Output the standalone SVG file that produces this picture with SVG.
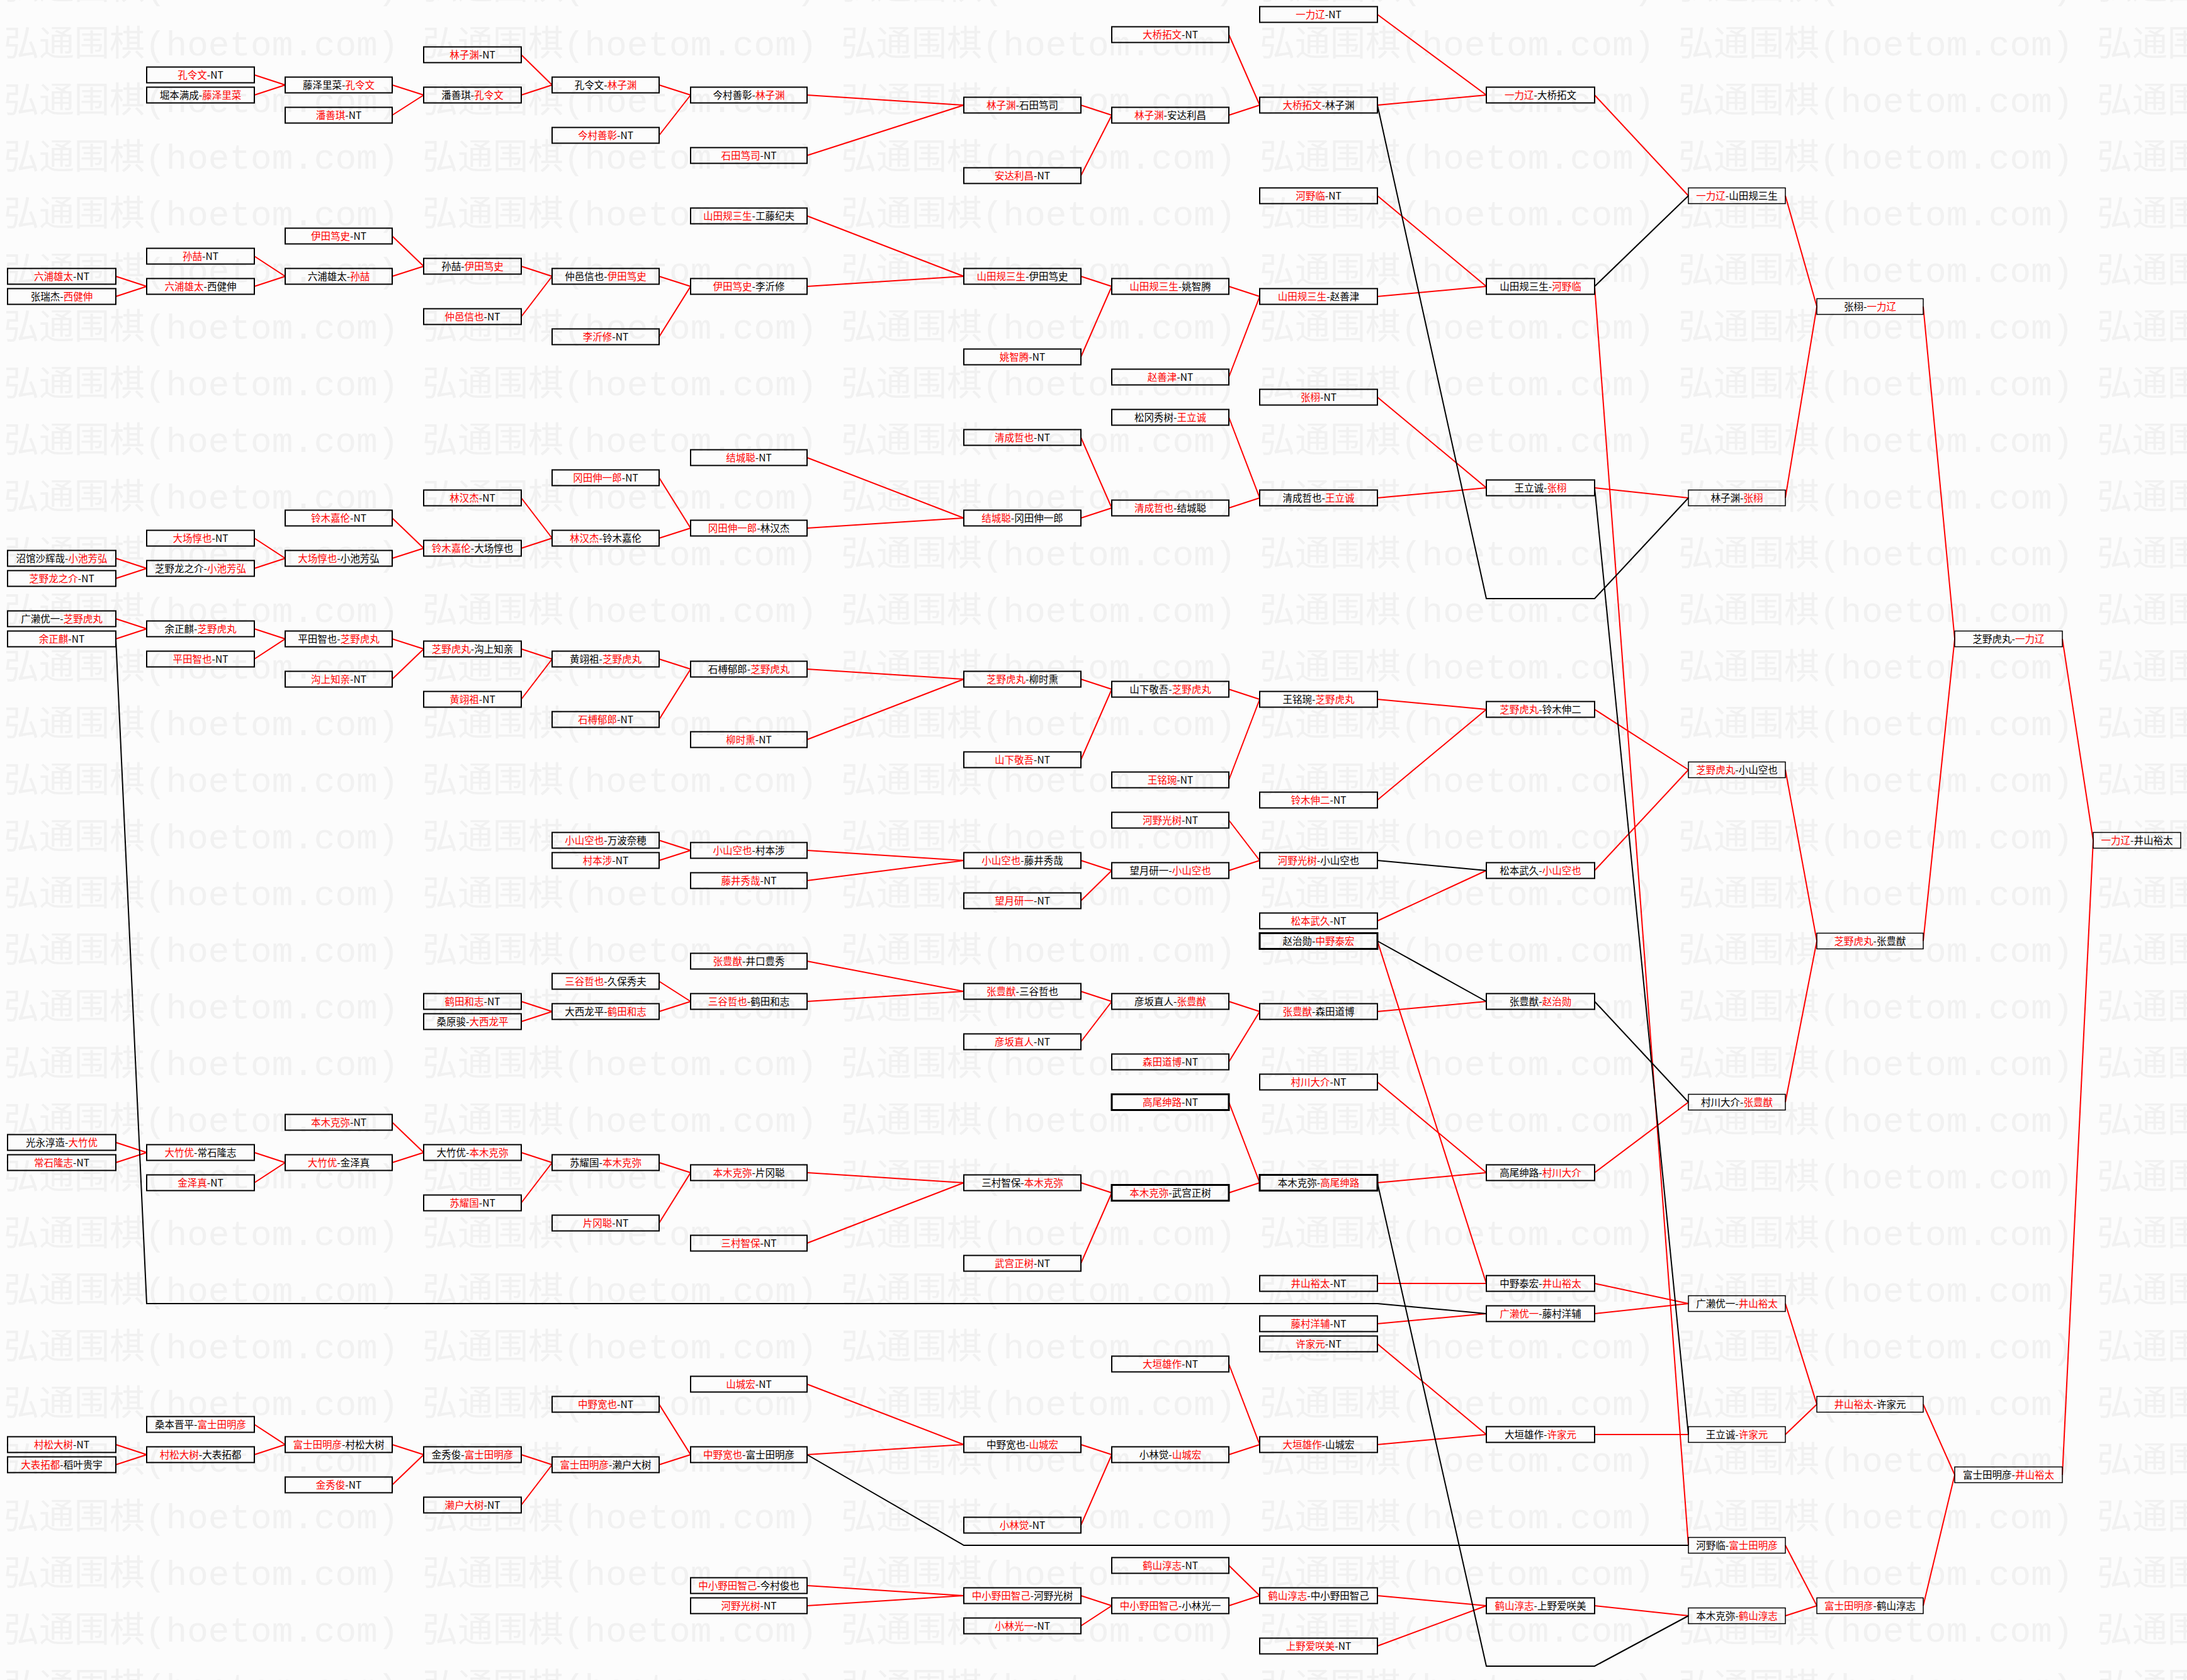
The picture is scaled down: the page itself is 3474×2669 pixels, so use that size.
<svg xmlns="http://www.w3.org/2000/svg" width="3474" height="2669" viewBox="0 0 3474 2669">
<defs>
<style>
.bx{fill:none;stroke:#000;stroke-width:2}
.bk{fill:none;stroke:#000;stroke-width:1.5}
.bt{fill:none;stroke:#000;stroke-width:3}
.t{font-family:"Noto Sans CJK SC","Noto Sans",sans-serif;font-size:15.5px;fill:#000;text-anchor:middle}
.r{fill:#f00}
.cr{stroke:#f00;stroke-width:2;fill:none}
.cb{stroke:#000;stroke-width:2;fill:none}
.wm{font-family:"Liberation Mono","Noto Sans CJK SC",monospace;font-size:56px;fill:#f1f1f1}
</style>
<pattern id="wmp" patternUnits="userSpaceOnUse" x="0" y="18" width="665" height="90">
<text class="wm" x="6" y="70">弘通围棋(hoetom.com)</text>
</pattern>
</defs>
<rect width="3474" height="2669" fill="#fcfcfc"/>
<rect width="3474" height="2669" fill="url(#wmp)"/>

<g id="connectors">
<g id="red-links">
<path class="cr" d="M184 439L233 455"/><path class="cr" d="M184 471L233 455"/>
<path class="cr" d="M184 887L233 903"/><path class="cr" d="M184 919L233 903"/>
<path class="cr" d="M184 983L233 999"/><path class="cr" d="M184 1015L233 999"/>
<path class="cr" d="M184 1815L233 1831"/><path class="cr" d="M184 1847L233 1831"/>
<path class="cr" d="M184 2295L233 2311"/><path class="cr" d="M184 2327L233 2311"/>
<path class="cr" d="M404 119L453 135"/><path class="cr" d="M404 151L453 135"/>
<path class="cr" d="M404 407L453 439"/><path class="cr" d="M404 455L453 439"/>
<path class="cr" d="M404 855L453 887"/><path class="cr" d="M404 903L453 887"/>
<path class="cr" d="M404 999L453 1015"/><path class="cr" d="M404 1047L453 1015"/>
<path class="cr" d="M404 1831L453 1847"/><path class="cr" d="M404 1879L453 1847"/>
<path class="cr" d="M404 2263L453 2295"/><path class="cr" d="M404 2311L453 2295"/>
<path class="cr" d="M623 135L673 151"/><path class="cr" d="M623 183L673 151"/>
<path class="cr" d="M623 375L673 423"/><path class="cr" d="M623 439L673 423"/>
<path class="cr" d="M623 823L673 871"/><path class="cr" d="M623 887L673 871"/>
<path class="cr" d="M623 1015L673 1031"/><path class="cr" d="M623 1079L673 1031"/>
<path class="cr" d="M623 1783L673 1831"/><path class="cr" d="M623 1847L673 1831"/>
<path class="cr" d="M623 2295L673 2311"/><path class="cr" d="M623 2359L673 2311"/>
<path class="cr" d="M828 87L877 135"/><path class="cr" d="M828 151L877 135"/>
<path class="cr" d="M828 423L877 439"/><path class="cr" d="M828 503L877 439"/>
<path class="cr" d="M828 791L877 855"/><path class="cr" d="M828 871L877 855"/>
<path class="cr" d="M828 1031L877 1047"/><path class="cr" d="M828 1111L877 1047"/>
<path class="cr" d="M828 1591L877 1607"/><path class="cr" d="M828 1623L877 1607"/>
<path class="cr" d="M828 1831L877 1847"/><path class="cr" d="M828 1911L877 1847"/>
<path class="cr" d="M828 2311L877 2327"/><path class="cr" d="M828 2391L877 2327"/>
<path class="cr" d="M1047 135L1097 151"/><path class="cr" d="M1047 215L1097 151"/>
<path class="cr" d="M1047 439L1097 455"/><path class="cr" d="M1047 535L1097 455"/>
<path class="cr" d="M1047 759L1097 839"/><path class="cr" d="M1047 855L1097 839"/>
<path class="cr" d="M1047 1047L1097 1063"/><path class="cr" d="M1047 1143L1097 1063"/>
<path class="cr" d="M1047 1335L1097 1351"/><path class="cr" d="M1047 1367L1097 1351"/>
<path class="cr" d="M1047 1559L1097 1591"/><path class="cr" d="M1047 1607L1097 1591"/>
<path class="cr" d="M1047 1847L1097 1863"/><path class="cr" d="M1047 1943L1097 1863"/>
<path class="cr" d="M1047 2231L1097 2311"/><path class="cr" d="M1047 2327L1097 2311"/>
<path class="cr" d="M1282 151L1531 167"/><path class="cr" d="M1282 247L1531 167"/>
<path class="cr" d="M1282 343L1531 439"/><path class="cr" d="M1282 455L1531 439"/>
<path class="cr" d="M1282 727L1531 823"/><path class="cr" d="M1282 839L1531 823"/>
<path class="cr" d="M1282 1063L1531 1079"/><path class="cr" d="M1282 1175L1531 1079"/>
<path class="cr" d="M1282 1351L1531 1367"/><path class="cr" d="M1282 1399L1531 1367"/>
<path class="cr" d="M1282 1527L1531 1575"/><path class="cr" d="M1282 1591L1531 1575"/>
<path class="cr" d="M1282 1863L1531 1879"/><path class="cr" d="M1282 1975L1531 1879"/>
<path class="cr" d="M1282 2199L1531 2295"/><path class="cr" d="M1282 2311L1531 2295"/>
<path class="cr" d="M1282 2519L1531 2535"/><path class="cr" d="M1282 2551L1531 2535"/>
<path class="cr" d="M1717 167L1766 183"/><path class="cr" d="M1717 279L1766 183"/>
<path class="cr" d="M1717 439L1766 455"/><path class="cr" d="M1717 567L1766 455"/>
<path class="cr" d="M1717 695L1766 807"/><path class="cr" d="M1717 823L1766 807"/>
<path class="cr" d="M1717 1079L1766 1095"/><path class="cr" d="M1717 1207L1766 1095"/>
<path class="cr" d="M1717 1367L1766 1383"/><path class="cr" d="M1717 1431L1766 1383"/>
<path class="cr" d="M1717 1575L1766 1591"/><path class="cr" d="M1717 1655L1766 1591"/>
<path class="cr" d="M1717 1879L1766 1895"/><path class="cr" d="M1717 2007L1766 1895"/>
<path class="cr" d="M1717 2295L1766 2311"/><path class="cr" d="M1717 2423L1766 2311"/>
<path class="cr" d="M1717 2535L1766 2551"/><path class="cr" d="M1717 2583L1766 2551"/>
<path class="cr" d="M1952 55L2001 167"/><path class="cr" d="M1952 183L2001 167"/>
<path class="cr" d="M1952 455L2001 471"/><path class="cr" d="M1952 599L2001 471"/>
<path class="cr" d="M1952 663L2001 791"/><path class="cr" d="M1952 807L2001 791"/>
<path class="cr" d="M1952 1095L2001 1111"/><path class="cr" d="M1952 1239L2001 1111"/>
<path class="cr" d="M1952 1303L2001 1367"/><path class="cr" d="M1952 1383L2001 1367"/>
<path class="cr" d="M1952 1591L2001 1607"/><path class="cr" d="M1952 1687L2001 1607"/>
<path class="cr" d="M1952 1751L2001 1879"/><path class="cr" d="M1952 1895L2001 1879"/>
<path class="cr" d="M1952 2167L2001 2295"/><path class="cr" d="M1952 2311L2001 2295"/>
<path class="cr" d="M1952 2487L2001 2535"/><path class="cr" d="M1952 2551L2001 2535"/>
<path class="cr" d="M2188 23L2361 151"/><path class="cr" d="M2188 167L2361 151"/>
<path class="cr" d="M2188 311L2361 455"/><path class="cr" d="M2188 471L2361 455"/>
<path class="cr" d="M2188 631L2361 775"/><path class="cr" d="M2188 791L2361 775"/>
<path class="cr" d="M2188 1111L2361 1127"/><path class="cr" d="M2188 1271L2361 1127"/>
<path class="cr" d="M2188 1463L2361 1383"/><path class="cr" d="M2188 1607L2361 1591"/>
<path class="cr" d="M2188 1495L2361 2039"/>
<path class="cr" d="M2188 1719L2361 1863"/><path class="cr" d="M2188 1879L2361 1863"/>
<path class="cr" d="M2188 2039L2361 2039"/><path class="cr" d="M2188 2103L2361 2087"/>
<path class="cr" d="M2188 2135L2361 2279"/><path class="cr" d="M2188 2295L2361 2279"/>
<path class="cr" d="M2188 2535L2361 2551"/><path class="cr" d="M2188 2615L2361 2551"/>
<path class="cr" d="M2533 151L2682 311"/>
<path class="cr" d="M2533 775L2682 791"/>
<path class="cr" d="M2533 1127L2682 1223"/><path class="cr" d="M2533 1383L2682 1223"/>
<path class="cr" d="M2533 1863L2682 1751"/>
<path class="cr" d="M2533 2039L2682 2071"/><path class="cr" d="M2533 2087L2682 2071"/>
<path class="cr" d="M2533 2279L2682 2279"/>
<path class="cr" d="M2533 2551L2682 2567"/>
<path class="cr" d="M2533 455L2682 2455"/>
<path class="cr" d="M2836 311L2886 487"/><path class="cr" d="M2836 791L2886 487"/>
<path class="cr" d="M2836 1223L2886 1495"/><path class="cr" d="M2836 1751L2886 1495"/>
<path class="cr" d="M2836 2071L2886 2231"/><path class="cr" d="M2836 2279L2886 2231"/>
<path class="cr" d="M2836 2455L2886 2551"/><path class="cr" d="M2836 2567L2886 2551"/>
<path class="cr" d="M3055 487L3105 1015"/><path class="cr" d="M3055 1495L3105 1015"/>
<path class="cr" d="M3055 2231L3105 2343"/><path class="cr" d="M3055 2551L3105 2343"/>
<path class="cr" d="M3276 1015L3325 1335"/><path class="cr" d="M3276 2343L3325 1335"/>
</g>
<g id="black-links">
<path class="cb" d="M184 1015L233 2071L2188 2071L2361 2087"/>
<path class="cb" d="M2188 167L2361 951L2533 951L2682 791"/>
<path class="cb" d="M2188 1879L2361 2647L2533 2647L2682 2567"/>
<path class="cb" d="M1282 2311L1531 2455L2682 2455"/>
<path class="cb" d="M2533 455L2682 311"/>
<path class="cb" d="M2533 775L2682 2279"/>
<path class="cb" d="M2188 1367L2361 1383"/>
<path class="cb" d="M2188 1495L2361 1591"/>
<path class="cb" d="M2533 1591L2682 1751"/>
</g>
</g>

<g id="col-A">
<g id="nA1"><rect class="bx" x="12" y="426.5" width="172" height="25"/><text class="t" x="98" y="444.5"><tspan class="r">六浦雄太</tspan>-NT</text></g>
<g id="nA2"><rect class="bx" x="12" y="458.5" width="172" height="25"/><text class="t" x="98" y="476.5">张瑞杰-<tspan class="r">西健伸</tspan></text></g>
<g id="nA3"><rect class="bx" x="12" y="874.5" width="172" height="25"/><text class="t" x="98" y="892.5">沼馆沙辉哉-<tspan class="r">小池芳弘</tspan></text></g>
<g id="nA4"><rect class="bx" x="12" y="906.5" width="172" height="25"/><text class="t" x="98" y="924.5"><tspan class="r">芝野龙之介</tspan>-NT</text></g>
<g id="nA5"><rect class="bx" x="12" y="970.5" width="172" height="25"/><text class="t" x="98" y="988.5">广濑优一-<tspan class="r">芝野虎丸</tspan></text></g>
<g id="nA6"><rect class="bx" x="12" y="1002.5" width="172" height="25"/><text class="t" x="98" y="1020.5"><tspan class="r">余正麒</tspan>-NT</text></g>
<g id="nA7"><rect class="bx" x="12" y="1802.5" width="172" height="25"/><text class="t" x="98" y="1820.5">光永淳造-<tspan class="r">大竹优</tspan></text></g>
<g id="nA8"><rect class="bx" x="12" y="1834.5" width="172" height="25"/><text class="t" x="98" y="1852.5"><tspan class="r">常石隆志</tspan>-NT</text></g>
<g id="nA9"><rect class="bx" x="12" y="2282.5" width="172" height="25"/><text class="t" x="98" y="2300.5"><tspan class="r">村松大树</tspan>-NT</text></g>
<g id="nA10"><rect class="bx" x="12" y="2314.5" width="172" height="25"/><text class="t" x="98" y="2332.5"><tspan class="r">大表拓都</tspan>-稻叶贵宇</text></g>
</g>

<g id="col-B">
<g id="nB1"><rect class="bx" x="233" y="106.5" width="171" height="25"/><text class="t" x="318.5" y="124.5"><tspan class="r">孔令文</tspan>-NT</text></g>
<g id="nB2"><rect class="bx" x="233" y="138.5" width="171" height="25"/><text class="t" x="318.5" y="156.5">堀本满成-<tspan class="r">藤泽里菜</tspan></text></g>
<g id="nB3"><rect class="bx" x="233" y="394.5" width="171" height="25"/><text class="t" x="318.5" y="412.5"><tspan class="r">孙喆</tspan>-NT</text></g>
<g id="nB4"><rect class="bx" x="233" y="442.5" width="171" height="25"/><text class="t" x="318.5" y="460.5"><tspan class="r">六浦雄太</tspan>-西健伸</text></g>
<g id="nB5"><rect class="bx" x="233" y="842.5" width="171" height="25"/><text class="t" x="318.5" y="860.5"><tspan class="r">大场惇也</tspan>-NT</text></g>
<g id="nB6"><rect class="bx" x="233" y="890.5" width="171" height="25"/><text class="t" x="318.5" y="908.5">芝野龙之介-<tspan class="r">小池芳弘</tspan></text></g>
<g id="nB7"><rect class="bx" x="233" y="986.5" width="171" height="25"/><text class="t" x="318.5" y="1004.5">余正麒-<tspan class="r">芝野虎丸</tspan></text></g>
<g id="nB8"><rect class="bx" x="233" y="1034.5" width="171" height="25"/><text class="t" x="318.5" y="1052.5"><tspan class="r">平田智也</tspan>-NT</text></g>
<g id="nB9"><rect class="bx" x="233" y="1818.5" width="171" height="25"/><text class="t" x="318.5" y="1836.5"><tspan class="r">大竹优</tspan>-常石隆志</text></g>
<g id="nB10"><rect class="bx" x="233" y="1866.5" width="171" height="25"/><text class="t" x="318.5" y="1884.5"><tspan class="r">金泽真</tspan>-NT</text></g>
<g id="nB11"><rect class="bx" x="233" y="2250.5" width="171" height="25"/><text class="t" x="318.5" y="2268.5">桑本晋平-<tspan class="r">富士田明彦</tspan></text></g>
<g id="nB12"><rect class="bx" x="233" y="2298.5" width="171" height="25"/><text class="t" x="318.5" y="2316.5"><tspan class="r">村松大树</tspan>-大表拓都</text></g>
</g>

<g id="col-C">
<g id="nC1"><rect class="bx" x="453" y="122.5" width="170" height="25"/><text class="t" x="538" y="140.5">藤泽里菜-<tspan class="r">孔令文</tspan></text></g>
<g id="nC2"><rect class="bx" x="453" y="170.5" width="170" height="25"/><text class="t" x="538" y="188.5"><tspan class="r">潘善琪</tspan>-NT</text></g>
<g id="nC3"><rect class="bx" x="453" y="362.5" width="170" height="25"/><text class="t" x="538" y="380.5"><tspan class="r">伊田笃史</tspan>-NT</text></g>
<g id="nC4"><rect class="bx" x="453" y="426.5" width="170" height="25"/><text class="t" x="538" y="444.5">六浦雄太-<tspan class="r">孙喆</tspan></text></g>
<g id="nC5"><rect class="bx" x="453" y="810.5" width="170" height="25"/><text class="t" x="538" y="828.5"><tspan class="r">铃木嘉伦</tspan>-NT</text></g>
<g id="nC6"><rect class="bx" x="453" y="874.5" width="170" height="25"/><text class="t" x="538" y="892.5"><tspan class="r">大场惇也</tspan>-小池芳弘</text></g>
<g id="nC7"><rect class="bx" x="453" y="1002.5" width="170" height="25"/><text class="t" x="538" y="1020.5">平田智也-<tspan class="r">芝野虎丸</tspan></text></g>
<g id="nC8"><rect class="bx" x="453" y="1066.5" width="170" height="25"/><text class="t" x="538" y="1084.5"><tspan class="r">沟上知亲</tspan>-NT</text></g>
<g id="nC9"><rect class="bx" x="453" y="1770.5" width="170" height="25"/><text class="t" x="538" y="1788.5"><tspan class="r">本木克弥</tspan>-NT</text></g>
<g id="nC10"><rect class="bx" x="453" y="1834.5" width="170" height="25"/><text class="t" x="538" y="1852.5"><tspan class="r">大竹优</tspan>-金泽真</text></g>
<g id="nC11"><rect class="bx" x="453" y="2282.5" width="170" height="25"/><text class="t" x="538" y="2300.5"><tspan class="r">富士田明彦</tspan>-村松大树</text></g>
<g id="nC12"><rect class="bx" x="453" y="2346.5" width="170" height="25"/><text class="t" x="538" y="2364.5"><tspan class="r">金秀俊</tspan>-NT</text></g>
</g>

<g id="col-D">
<g id="nD1"><rect class="bx" x="673" y="74.5" width="155" height="25"/><text class="t" x="750.5" y="92.5"><tspan class="r">林子渊</tspan>-NT</text></g>
<g id="nD2"><rect class="bx" x="673" y="138.5" width="155" height="25"/><text class="t" x="750.5" y="156.5">潘善琪-<tspan class="r">孔令文</tspan></text></g>
<g id="nD3"><rect class="bx" x="673" y="410.5" width="155" height="25"/><text class="t" x="750.5" y="428.5">孙喆-<tspan class="r">伊田笃史</tspan></text></g>
<g id="nD4"><rect class="bx" x="673" y="490.5" width="155" height="25"/><text class="t" x="750.5" y="508.5"><tspan class="r">仲邑信也</tspan>-NT</text></g>
<g id="nD5"><rect class="bx" x="673" y="778.5" width="155" height="25"/><text class="t" x="750.5" y="796.5"><tspan class="r">林汉杰</tspan>-NT</text></g>
<g id="nD6"><rect class="bx" x="673" y="858.5" width="155" height="25"/><text class="t" x="750.5" y="876.5"><tspan class="r">铃木嘉伦</tspan>-大场惇也</text></g>
<g id="nD7"><rect class="bx" x="673" y="1018.5" width="155" height="25"/><text class="t" x="750.5" y="1036.5"><tspan class="r">芝野虎丸</tspan>-沟上知亲</text></g>
<g id="nD8"><rect class="bx" x="673" y="1098.5" width="155" height="25"/><text class="t" x="750.5" y="1116.5"><tspan class="r">黄翊祖</tspan>-NT</text></g>
<g id="nD9"><rect class="bx" x="673" y="1578.5" width="155" height="25"/><text class="t" x="750.5" y="1596.5"><tspan class="r">鹤田和志</tspan>-NT</text></g>
<g id="nD10"><rect class="bx" x="673" y="1610.5" width="155" height="25"/><text class="t" x="750.5" y="1628.5">桑原骏-<tspan class="r">大西龙平</tspan></text></g>
<g id="nD11"><rect class="bx" x="673" y="1818.5" width="155" height="25"/><text class="t" x="750.5" y="1836.5">大竹优-<tspan class="r">本木克弥</tspan></text></g>
<g id="nD12"><rect class="bx" x="673" y="1898.5" width="155" height="25"/><text class="t" x="750.5" y="1916.5"><tspan class="r">苏耀国</tspan>-NT</text></g>
<g id="nD13"><rect class="bx" x="673" y="2298.5" width="155" height="25"/><text class="t" x="750.5" y="2316.5">金秀俊-<tspan class="r">富士田明彦</tspan></text></g>
<g id="nD14"><rect class="bx" x="673" y="2378.5" width="155" height="25"/><text class="t" x="750.5" y="2396.5"><tspan class="r">濑户大树</tspan>-NT</text></g>
</g>

<g id="col-E">
<g id="nE1"><rect class="bx" x="877" y="122.5" width="170" height="25"/><text class="t" x="962" y="140.5">孔令文-<tspan class="r">林子渊</tspan></text></g>
<g id="nE2"><rect class="bx" x="877" y="202.5" width="170" height="25"/><text class="t" x="962" y="220.5"><tspan class="r">今村善彰</tspan>-NT</text></g>
<g id="nE3"><rect class="bx" x="877" y="426.5" width="170" height="25"/><text class="t" x="962" y="444.5">仲邑信也-<tspan class="r">伊田笃史</tspan></text></g>
<g id="nE4"><rect class="bx" x="877" y="522.5" width="170" height="25"/><text class="t" x="962" y="540.5"><tspan class="r">李沂修</tspan>-NT</text></g>
<g id="nE5"><rect class="bx" x="877" y="746.5" width="170" height="25"/><text class="t" x="962" y="764.5"><tspan class="r">冈田伸一郎</tspan>-NT</text></g>
<g id="nE6"><rect class="bx" x="877" y="842.5" width="170" height="25"/><text class="t" x="962" y="860.5"><tspan class="r">林汉杰</tspan>-铃木嘉伦</text></g>
<g id="nE7"><rect class="bx" x="877" y="1034.5" width="170" height="25"/><text class="t" x="962" y="1052.5">黄翊祖-<tspan class="r">芝野虎丸</tspan></text></g>
<g id="nE8"><rect class="bx" x="877" y="1130.5" width="170" height="25"/><text class="t" x="962" y="1148.5"><tspan class="r">石榑郁郎</tspan>-NT</text></g>
<g id="nE9"><rect class="bx" x="877" y="1322.5" width="170" height="25"/><text class="t" x="962" y="1340.5"><tspan class="r">小山空也</tspan>-万波奈穂</text></g>
<g id="nE10"><rect class="bx" x="877" y="1354.5" width="170" height="25"/><text class="t" x="962" y="1372.5"><tspan class="r">村本涉</tspan>-NT</text></g>
<g id="nE11"><rect class="bx" x="877" y="1546.5" width="170" height="25"/><text class="t" x="962" y="1564.5"><tspan class="r">三谷哲也</tspan>-久保秀夫</text></g>
<g id="nE12"><rect class="bx" x="877" y="1594.5" width="170" height="25"/><text class="t" x="962" y="1612.5">大西龙平-<tspan class="r">鹤田和志</tspan></text></g>
<g id="nE13"><rect class="bx" x="877" y="1834.5" width="170" height="25"/><text class="t" x="962" y="1852.5">苏耀国-<tspan class="r">本木克弥</tspan></text></g>
<g id="nE14"><rect class="bx" x="877" y="1930.5" width="170" height="25"/><text class="t" x="962" y="1948.5"><tspan class="r">片冈聪</tspan>-NT</text></g>
<g id="nE15"><rect class="bx" x="877" y="2218.5" width="170" height="25"/><text class="t" x="962" y="2236.5"><tspan class="r">中野宽也</tspan>-NT</text></g>
<g id="nE16"><rect class="bx" x="877" y="2314.5" width="170" height="25"/><text class="t" x="962" y="2332.5"><tspan class="r">富士田明彦</tspan>-濑户大树</text></g>
</g>

<g id="col-F">
<g id="nF1"><rect class="bx" x="1097" y="138.5" width="185" height="25"/><text class="t" x="1189.5" y="156.5">今村善彰-<tspan class="r">林子渊</tspan></text></g>
<g id="nF2"><rect class="bx" x="1097" y="234.5" width="185" height="25"/><text class="t" x="1189.5" y="252.5"><tspan class="r">石田笃司</tspan>-NT</text></g>
<g id="nF3"><rect class="bx" x="1097" y="330.5" width="185" height="25"/><text class="t" x="1189.5" y="348.5"><tspan class="r">山田规三生</tspan>-工藤纪夫</text></g>
<g id="nF4"><rect class="bx" x="1097" y="442.5" width="185" height="25"/><text class="t" x="1189.5" y="460.5"><tspan class="r">伊田笃史</tspan>-李沂修</text></g>
<g id="nF5"><rect class="bx" x="1097" y="714.5" width="185" height="25"/><text class="t" x="1189.5" y="732.5"><tspan class="r">结城聪</tspan>-NT</text></g>
<g id="nF6"><rect class="bx" x="1097" y="826.5" width="185" height="25"/><text class="t" x="1189.5" y="844.5"><tspan class="r">冈田伸一郎</tspan>-林汉杰</text></g>
<g id="nF7"><rect class="bx" x="1097" y="1050.5" width="185" height="25"/><text class="t" x="1189.5" y="1068.5">石榑郁郎-<tspan class="r">芝野虎丸</tspan></text></g>
<g id="nF8"><rect class="bx" x="1097" y="1162.5" width="185" height="25"/><text class="t" x="1189.5" y="1180.5"><tspan class="r">柳时熏</tspan>-NT</text></g>
<g id="nF9"><rect class="bx" x="1097" y="1338.5" width="185" height="25"/><text class="t" x="1189.5" y="1356.5"><tspan class="r">小山空也</tspan>-村本涉</text></g>
<g id="nF10"><rect class="bx" x="1097" y="1386.5" width="185" height="25"/><text class="t" x="1189.5" y="1404.5"><tspan class="r">藤井秀哉</tspan>-NT</text></g>
<g id="nF11"><rect class="bx" x="1097" y="1514.5" width="185" height="25"/><text class="t" x="1189.5" y="1532.5"><tspan class="r">张豊猷</tspan>-井口豊秀</text></g>
<g id="nF12"><rect class="bx" x="1097" y="1578.5" width="185" height="25"/><text class="t" x="1189.5" y="1596.5"><tspan class="r">三谷哲也</tspan>-鹤田和志</text></g>
<g id="nF13"><rect class="bx" x="1097" y="1850.5" width="185" height="25"/><text class="t" x="1189.5" y="1868.5"><tspan class="r">本木克弥</tspan>-片冈聪</text></g>
<g id="nF14"><rect class="bx" x="1097" y="1962.5" width="185" height="25"/><text class="t" x="1189.5" y="1980.5"><tspan class="r">三村智保</tspan>-NT</text></g>
<g id="nF15"><rect class="bx" x="1097" y="2186.5" width="185" height="25"/><text class="t" x="1189.5" y="2204.5"><tspan class="r">山城宏</tspan>-NT</text></g>
<g id="nF16"><rect class="bx" x="1097" y="2298.5" width="185" height="25"/><text class="t" x="1189.5" y="2316.5"><tspan class="r">中野宽也</tspan>-富士田明彦</text></g>
<g id="nF17"><rect class="bx" x="1097" y="2506.5" width="185" height="25"/><text class="t" x="1189.5" y="2524.5"><tspan class="r">中小野田智己</tspan>-今村俊也</text></g>
<g id="nF18"><rect class="bx" x="1097" y="2538.5" width="185" height="25"/><text class="t" x="1189.5" y="2556.5"><tspan class="r">河野光树</tspan>-NT</text></g>
</g>

<g id="col-G">
<g id="nG1"><rect class="bx" x="1531" y="154.5" width="186" height="25"/><text class="t" x="1624" y="172.5"><tspan class="r">林子渊</tspan>-石田笃司</text></g>
<g id="nG2"><rect class="bx" x="1531" y="266.5" width="186" height="25"/><text class="t" x="1624" y="284.5"><tspan class="r">安达利昌</tspan>-NT</text></g>
<g id="nG3"><rect class="bx" x="1531" y="426.5" width="186" height="25"/><text class="t" x="1624" y="444.5"><tspan class="r">山田规三生</tspan>-伊田笃史</text></g>
<g id="nG4"><rect class="bx" x="1531" y="554.5" width="186" height="25"/><text class="t" x="1624" y="572.5"><tspan class="r">姚智腾</tspan>-NT</text></g>
<g id="nG5"><rect class="bx" x="1531" y="682.5" width="186" height="25"/><text class="t" x="1624" y="700.5"><tspan class="r">清成哲也</tspan>-NT</text></g>
<g id="nG6"><rect class="bx" x="1531" y="810.5" width="186" height="25"/><text class="t" x="1624" y="828.5"><tspan class="r">结城聪</tspan>-冈田伸一郎</text></g>
<g id="nG7"><rect class="bx" x="1531" y="1066.5" width="186" height="25"/><text class="t" x="1624" y="1084.5"><tspan class="r">芝野虎丸</tspan>-柳时熏</text></g>
<g id="nG8"><rect class="bx" x="1531" y="1194.5" width="186" height="25"/><text class="t" x="1624" y="1212.5"><tspan class="r">山下敬吾</tspan>-NT</text></g>
<g id="nG9"><rect class="bx" x="1531" y="1354.5" width="186" height="25"/><text class="t" x="1624" y="1372.5"><tspan class="r">小山空也</tspan>-藤井秀哉</text></g>
<g id="nG10"><rect class="bx" x="1531" y="1418.5" width="186" height="25"/><text class="t" x="1624" y="1436.5"><tspan class="r">望月研一</tspan>-NT</text></g>
<g id="nG11"><rect class="bx" x="1531" y="1562.5" width="186" height="25"/><text class="t" x="1624" y="1580.5"><tspan class="r">张豊猷</tspan>-三谷哲也</text></g>
<g id="nG12"><rect class="bx" x="1531" y="1642.5" width="186" height="25"/><text class="t" x="1624" y="1660.5"><tspan class="r">彦坂直人</tspan>-NT</text></g>
<g id="nG13"><rect class="bx" x="1531" y="1866.5" width="186" height="25"/><text class="t" x="1624" y="1884.5">三村智保-<tspan class="r">本木克弥</tspan></text></g>
<g id="nG14"><rect class="bx" x="1531" y="1994.5" width="186" height="25"/><text class="t" x="1624" y="2012.5"><tspan class="r">武宫正树</tspan>-NT</text></g>
<g id="nG15"><rect class="bx" x="1531" y="2282.5" width="186" height="25"/><text class="t" x="1624" y="2300.5">中野宽也-<tspan class="r">山城宏</tspan></text></g>
<g id="nG16"><rect class="bx" x="1531" y="2410.5" width="186" height="25"/><text class="t" x="1624" y="2428.5"><tspan class="r">小林觉</tspan>-NT</text></g>
<g id="nG17"><rect class="bx" x="1531" y="2522.5" width="186" height="25"/><text class="t" x="1624" y="2540.5"><tspan class="r">中小野田智己</tspan>-河野光树</text></g>
<g id="nG18"><rect class="bx" x="1531" y="2570.5" width="186" height="25"/><text class="t" x="1624" y="2588.5"><tspan class="r">小林光一</tspan>-NT</text></g>
</g>

<g id="col-H">
<g id="nH1"><rect class="bx" x="1766" y="42.5" width="186" height="25"/><text class="t" x="1859" y="60.5"><tspan class="r">大桥拓文</tspan>-NT</text></g>
<g id="nH2"><rect class="bx" x="1766" y="170.5" width="186" height="25"/><text class="t" x="1859" y="188.5"><tspan class="r">林子渊</tspan>-安达利昌</text></g>
<g id="nH3"><rect class="bx" x="1766" y="442.5" width="186" height="25"/><text class="t" x="1859" y="460.5"><tspan class="r">山田规三生</tspan>-姚智腾</text></g>
<g id="nH4"><rect class="bx" x="1766" y="586.5" width="186" height="25"/><text class="t" x="1859" y="604.5"><tspan class="r">赵善津</tspan>-NT</text></g>
<g id="nH5"><rect class="bx" x="1766" y="650.5" width="186" height="25"/><text class="t" x="1859" y="668.5">松冈秀树-<tspan class="r">王立诚</tspan></text></g>
<g id="nH6"><rect class="bx" x="1766" y="794.5" width="186" height="25"/><text class="t" x="1859" y="812.5"><tspan class="r">清成哲也</tspan>-结城聪</text></g>
<g id="nH7"><rect class="bx" x="1766" y="1082.5" width="186" height="25"/><text class="t" x="1859" y="1100.5">山下敬吾-<tspan class="r">芝野虎丸</tspan></text></g>
<g id="nH8"><rect class="bx" x="1766" y="1226.5" width="186" height="25"/><text class="t" x="1859" y="1244.5"><tspan class="r">王铭琬</tspan>-NT</text></g>
<g id="nH9"><rect class="bx" x="1766" y="1290.5" width="186" height="25"/><text class="t" x="1859" y="1308.5"><tspan class="r">河野光树</tspan>-NT</text></g>
<g id="nH10"><rect class="bx" x="1766" y="1370.5" width="186" height="25"/><text class="t" x="1859" y="1388.5">望月研一-<tspan class="r">小山空也</tspan></text></g>
<g id="nH11"><rect class="bx" x="1766" y="1578.5" width="186" height="25"/><text class="t" x="1859" y="1596.5">彦坂直人-<tspan class="r">张豊猷</tspan></text></g>
<g id="nH12"><rect class="bx" x="1766" y="1674.5" width="186" height="25"/><text class="t" x="1859" y="1692.5"><tspan class="r">森田道博</tspan>-NT</text></g>
<g id="nH13"><rect class="bt" x="1766" y="1738.5" width="186" height="25"/><text class="t" x="1859" y="1756.5"><tspan class="r">高尾绅路</tspan>-NT</text></g>
<g id="nH14"><rect class="bt" x="1766" y="1882.5" width="186" height="25"/><text class="t" x="1859" y="1900.5"><tspan class="r">本木克弥</tspan>-武宫正树</text></g>
<g id="nH15"><rect class="bx" x="1766" y="2154.5" width="186" height="25"/><text class="t" x="1859" y="2172.5"><tspan class="r">大垣雄作</tspan>-NT</text></g>
<g id="nH16"><rect class="bx" x="1766" y="2298.5" width="186" height="25"/><text class="t" x="1859" y="2316.5">小林觉-<tspan class="r">山城宏</tspan></text></g>
<g id="nH17"><rect class="bx" x="1766" y="2474.5" width="186" height="25"/><text class="t" x="1859" y="2492.5"><tspan class="r">鹤山淳志</tspan>-NT</text></g>
<g id="nH18"><rect class="bx" x="1766" y="2538.5" width="186" height="25"/><text class="t" x="1859" y="2556.5"><tspan class="r">中小野田智己</tspan>-小林光一</text></g>
</g>

<g id="col-I">
<g id="nI1"><rect class="bx" x="2001" y="10.5" width="187" height="25"/><text class="t" x="2094.5" y="28.5"><tspan class="r">一力辽</tspan>-NT</text></g>
<g id="nI2"><rect class="bx" x="2001" y="154.5" width="187" height="25"/><text class="t" x="2094.5" y="172.5"><tspan class="r">大桥拓文</tspan>-林子渊</text></g>
<g id="nI3"><rect class="bx" x="2001" y="298.5" width="187" height="25"/><text class="t" x="2094.5" y="316.5"><tspan class="r">河野临</tspan>-NT</text></g>
<g id="nI4"><rect class="bx" x="2001" y="458.5" width="187" height="25"/><text class="t" x="2094.5" y="476.5"><tspan class="r">山田规三生</tspan>-赵善津</text></g>
<g id="nI5"><rect class="bx" x="2001" y="618.5" width="187" height="25"/><text class="t" x="2094.5" y="636.5"><tspan class="r">张栩</tspan>-NT</text></g>
<g id="nI6"><rect class="bx" x="2001" y="778.5" width="187" height="25"/><text class="t" x="2094.5" y="796.5">清成哲也-<tspan class="r">王立诚</tspan></text></g>
<g id="nI7"><rect class="bx" x="2001" y="1098.5" width="187" height="25"/><text class="t" x="2094.5" y="1116.5">王铭琬-<tspan class="r">芝野虎丸</tspan></text></g>
<g id="nI8"><rect class="bx" x="2001" y="1258.5" width="187" height="25"/><text class="t" x="2094.5" y="1276.5"><tspan class="r">铃木伸二</tspan>-NT</text></g>
<g id="nI9"><rect class="bx" x="2001" y="1354.5" width="187" height="25"/><text class="t" x="2094.5" y="1372.5"><tspan class="r">河野光树</tspan>-小山空也</text></g>
<g id="nI10"><rect class="bx" x="2001" y="1450.5" width="187" height="25"/><text class="t" x="2094.5" y="1468.5"><tspan class="r">松本武久</tspan>-NT</text></g>
<g id="nI11"><rect class="bt" x="2001" y="1482.5" width="187" height="25"/><text class="t" x="2094.5" y="1500.5">赵治勋-<tspan class="r">中野泰宏</tspan></text></g>
<g id="nI12"><rect class="bx" x="2001" y="1594.5" width="187" height="25"/><text class="t" x="2094.5" y="1612.5"><tspan class="r">张豊猷</tspan>-森田道博</text></g>
<g id="nI13"><rect class="bx" x="2001" y="1706.5" width="187" height="25"/><text class="t" x="2094.5" y="1724.5"><tspan class="r">村川大介</tspan>-NT</text></g>
<g id="nI14"><rect class="bt" x="2001" y="1866.5" width="187" height="25"/><text class="t" x="2094.5" y="1884.5">本木克弥-<tspan class="r">高尾绅路</tspan></text></g>
<g id="nI15"><rect class="bx" x="2001" y="2026.5" width="187" height="25"/><text class="t" x="2094.5" y="2044.5"><tspan class="r">井山裕太</tspan>-NT</text></g>
<g id="nI16"><rect class="bx" x="2001" y="2090.5" width="187" height="25"/><text class="t" x="2094.5" y="2108.5"><tspan class="r">藤村洋辅</tspan>-NT</text></g>
<g id="nI17"><rect class="bx" x="2001" y="2122.5" width="187" height="25"/><text class="t" x="2094.5" y="2140.5"><tspan class="r">许家元</tspan>-NT</text></g>
<g id="nI18"><rect class="bx" x="2001" y="2282.5" width="187" height="25"/><text class="t" x="2094.5" y="2300.5"><tspan class="r">大垣雄作</tspan>-山城宏</text></g>
<g id="nI19"><rect class="bx" x="2001" y="2522.5" width="187" height="25"/><text class="t" x="2094.5" y="2540.5"><tspan class="r">鹤山淳志</tspan>-中小野田智己</text></g>
<g id="nI20"><rect class="bx" x="2001" y="2602.5" width="187" height="25"/><text class="t" x="2094.5" y="2620.5"><tspan class="r">上野爱咲美</tspan>-NT</text></g>
</g>

<g id="col-J">
<g id="nJ1"><rect class="bx" x="2361" y="138.5" width="172" height="25"/><text class="t" x="2447" y="156.5"><tspan class="r">一力辽</tspan>-大桥拓文</text></g>
<g id="nJ2"><rect class="bx" x="2361" y="442.5" width="172" height="25"/><text class="t" x="2447" y="460.5">山田规三生-<tspan class="r">河野临</tspan></text></g>
<g id="nJ3"><rect class="bx" x="2361" y="762.5" width="172" height="25"/><text class="t" x="2447" y="780.5">王立诚-<tspan class="r">张栩</tspan></text></g>
<g id="nJ4"><rect class="bx" x="2361" y="1114.5" width="172" height="25"/><text class="t" x="2447" y="1132.5"><tspan class="r">芝野虎丸</tspan>-铃木伸二</text></g>
<g id="nJ5"><rect class="bx" x="2361" y="1370.5" width="172" height="25"/><text class="t" x="2447" y="1388.5">松本武久-<tspan class="r">小山空也</tspan></text></g>
<g id="nJ6"><rect class="bx" x="2361" y="1578.5" width="172" height="25"/><text class="t" x="2447" y="1596.5">张豊猷-<tspan class="r">赵治勋</tspan></text></g>
<g id="nJ7"><rect class="bx" x="2361" y="1850.5" width="172" height="25"/><text class="t" x="2447" y="1868.5">高尾绅路-<tspan class="r">村川大介</tspan></text></g>
<g id="nJ8"><rect class="bx" x="2361" y="2026.5" width="172" height="25"/><text class="t" x="2447" y="2044.5">中野泰宏-<tspan class="r">井山裕太</tspan></text></g>
<g id="nJ9"><rect class="bx" x="2361" y="2074.5" width="172" height="25"/><text class="t" x="2447" y="2092.5"><tspan class="r">广濑优一</tspan>-藤村洋辅</text></g>
<g id="nJ10"><rect class="bx" x="2361" y="2266.5" width="172" height="25"/><text class="t" x="2447" y="2284.5">大垣雄作-<tspan class="r">许家元</tspan></text></g>
<g id="nJ11"><rect class="bx" x="2361" y="2538.5" width="172" height="25"/><text class="t" x="2447" y="2556.5"><tspan class="r">鹤山淳志</tspan>-上野爱咲美</text></g>
</g>

<g id="col-K">
<g id="nK1"><rect class="bk" x="2682" y="298.5" width="154" height="25"/><text class="t" x="2759" y="316.5"><tspan class="r">一力辽</tspan>-山田规三生</text></g>
<g id="nK2"><rect class="bk" x="2682" y="778.5" width="154" height="25"/><text class="t" x="2759" y="796.5">林子渊-<tspan class="r">张栩</tspan></text></g>
<g id="nK3"><rect class="bk" x="2682" y="1210.5" width="154" height="25"/><text class="t" x="2759" y="1228.5"><tspan class="r">芝野虎丸</tspan>-小山空也</text></g>
<g id="nK4"><rect class="bk" x="2682" y="1738.5" width="154" height="25"/><text class="t" x="2759" y="1756.5">村川大介-<tspan class="r">张豊猷</tspan></text></g>
<g id="nK5"><rect class="bk" x="2682" y="2058.5" width="154" height="25"/><text class="t" x="2759" y="2076.5">广濑优一-<tspan class="r">井山裕太</tspan></text></g>
<g id="nK6"><rect class="bk" x="2682" y="2266.5" width="154" height="25"/><text class="t" x="2759" y="2284.5">王立诚-<tspan class="r">许家元</tspan></text></g>
<g id="nK7"><rect class="bk" x="2682" y="2442.5" width="154" height="25"/><text class="t" x="2759" y="2460.5">河野临-<tspan class="r">富士田明彦</tspan></text></g>
<g id="nK8"><rect class="bk" x="2682" y="2554.5" width="154" height="25"/><text class="t" x="2759" y="2572.5">本木克弥-<tspan class="r">鹤山淳志</tspan></text></g>
</g>

<g id="col-L">
<g id="nL1"><rect class="bk" x="2886" y="474.5" width="169" height="25"/><text class="t" x="2970.5" y="492.5">张栩-<tspan class="r">一力辽</tspan></text></g>
<g id="nL2"><rect class="bk" x="2886" y="1482.5" width="169" height="25"/><text class="t" x="2970.5" y="1500.5"><tspan class="r">芝野虎丸</tspan>-张豊猷</text></g>
<g id="nL3"><rect class="bk" x="2886" y="2218.5" width="169" height="25"/><text class="t" x="2970.5" y="2236.5"><tspan class="r">井山裕太</tspan>-许家元</text></g>
<g id="nL4"><rect class="bk" x="2886" y="2538.5" width="169" height="25"/><text class="t" x="2970.5" y="2556.5"><tspan class="r">富士田明彦</tspan>-鹤山淳志</text></g>
</g>

<g id="col-M">
<g id="nM1"><rect class="bk" x="3105" y="1002.5" width="171" height="25"/><text class="t" x="3190.5" y="1020.5">芝野虎丸-<tspan class="r">一力辽</tspan></text></g>
<g id="nM2"><rect class="bk" x="3105" y="2330.5" width="171" height="25"/><text class="t" x="3190.5" y="2348.5">富士田明彦-<tspan class="r">井山裕太</tspan></text></g>
</g>

<g id="col-N">
<g id="nN1"><rect class="bk" x="3325" y="1322.5" width="139" height="25"/><text class="t" x="3394.5" y="1340.5"><tspan class="r">一力辽</tspan>-井山裕太</text></g>
</g>
</svg>
